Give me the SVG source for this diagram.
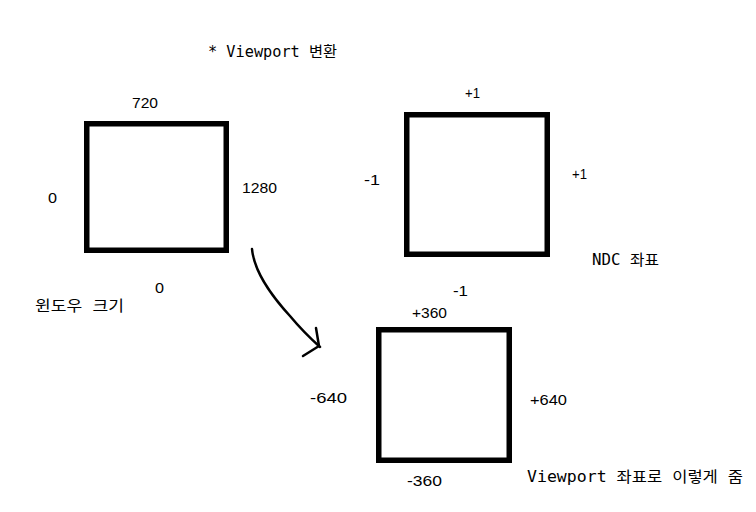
<svg xmlns="http://www.w3.org/2000/svg" width="756" height="512" viewBox="0 0 756 512">
<style>
.box{fill:none;stroke:#000;stroke-width:5.5}
text{font-family:"Liberation Sans","Noto Sans CJK KR",sans-serif;font-size:15px;fill:#000}
.ko{font-family:"DejaVu Sans Mono","Noto Sans CJK KR",monospace;font-size:15px}
.conn{fill:none;stroke:#000;stroke-width:2.5;stroke-linecap:round;stroke-linejoin:round}
</style>
<rect width="756" height="512" fill="#fff"/>
<text class="ko" x="208" y="56.5" textLength="129" lengthAdjust="spacingAndGlyphs">* Viewport 변환</text>
<g id="window">
<rect class="box" x="86.75" y="123.75" width="139.5" height="126.5"/>
<text x="132" y="107.5" textLength="26" lengthAdjust="spacingAndGlyphs">720</text>
<text x="48" y="202.5" textLength="9" lengthAdjust="spacingAndGlyphs">0</text>
<text x="242" y="192.5" textLength="35" lengthAdjust="spacingAndGlyphs">1280</text>
<text x="155" y="292.5" textLength="9" lengthAdjust="spacingAndGlyphs">0</text>
<text class="ko" x="35" y="311" textLength="89" lengthAdjust="spacingAndGlyphs">윈도우 크기</text>
</g>
<g id="ndc">
<rect class="box" x="406.75" y="114.75" width="140.5" height="139.5"/>
<text x="465" y="97.5" textLength="15" lengthAdjust="spacingAndGlyphs">+1</text>
<text x="364" y="184.5" textLength="16" lengthAdjust="spacingAndGlyphs">-1</text>
<text x="572" y="178.5" textLength="15" lengthAdjust="spacingAndGlyphs">+1</text>
<text class="ko" x="592" y="265" textLength="67" lengthAdjust="spacingAndGlyphs">NDC 좌표</text>
<text x="453" y="295.5" textLength="15" lengthAdjust="spacingAndGlyphs">-1</text>
</g>
<g id="viewport">
<rect class="box" x="378.75" y="329.75" width="130.5" height="130.5"/>
<text x="412" y="317.5" textLength="35" lengthAdjust="spacingAndGlyphs">+360</text>
<text x="310" y="402.5" textLength="37" lengthAdjust="spacingAndGlyphs">-640</text>
<text x="530" y="404.5" textLength="37" lengthAdjust="spacingAndGlyphs">+640</text>
<text x="407" y="485.5" textLength="35" lengthAdjust="spacingAndGlyphs">-360</text>
<text class="ko" x="527" y="482" textLength="216" lengthAdjust="spacingAndGlyphs">Viewport 좌표로 이렇게 줌</text>
</g>
<g id="connectors">
<path class="conn" d="M252,249 C254,270 268,292 290,316 C300,328 310,338 320,347"/>
<path class="conn" d="M316,328 L319,346 L303,356"/>
</g>
</svg>
